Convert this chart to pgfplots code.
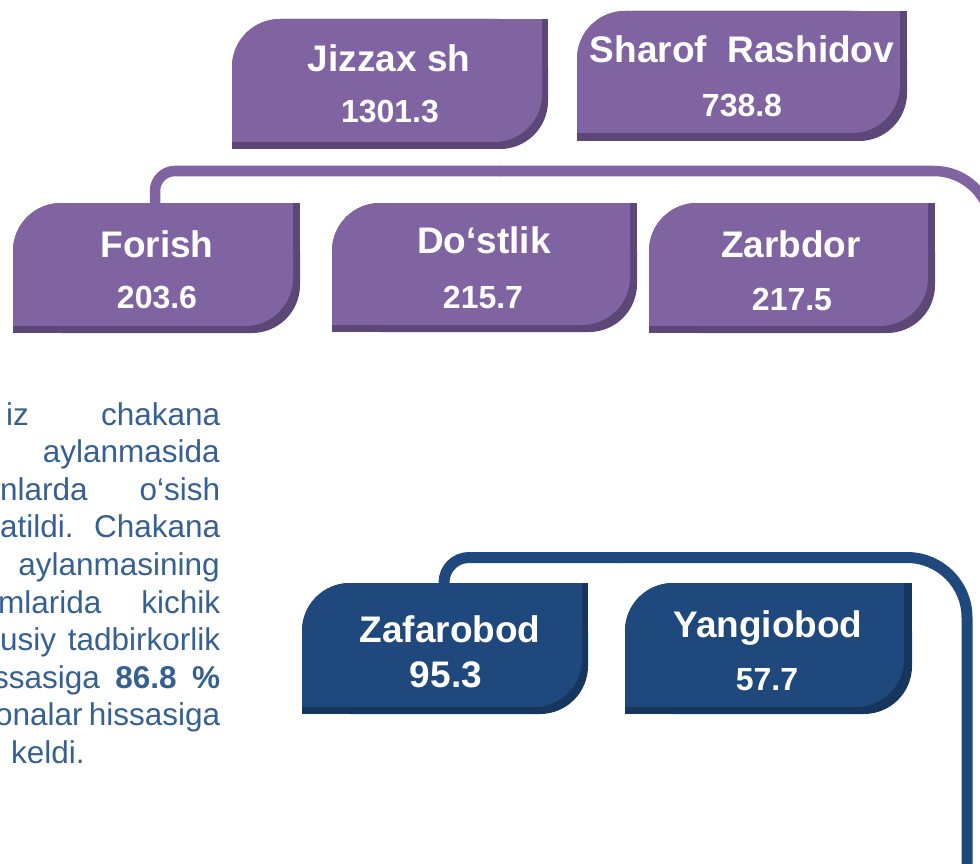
\documentclass[border=0pt]{standalone}
\usepackage{pgfplots}
\usepackage{pgfplotstable}
\pgfplotsset{compat=1.18}
\usepackage{fontspec}
\setmainfont{Liberation Sans}
\definecolor{purp}{HTML}{8064A2}
\definecolor{purpdark}{HTML}{5C4776}
\definecolor{navy}{HTML}{1F497D}
\definecolor{navydark}{HTML}{17365D}
\definecolor{parblue}{HTML}{366092}

% body/shadow shape: rounded top-left and bottom-right corners
\newcommand\shape[5]{%
 \edef\tmp{%
  \noexpand\addplot[fill=#5, draw=none, rounded corners=48pt] coordinates {(\the\numexpr(#1+#3)/2\relax,#2) (#3,#2) (#3,#4) (#1,#4) (#1,#2)} -- cycle;
  \noexpand\addplot[fill=#5, draw=none] coordinates {(\the\numexpr#3-48\relax,#2) (#3,#2) (#3,\the\numexpr#2+48\relax) (\the\numexpr#3-48\relax,\the\numexpr#2+48\relax)} -- cycle;
  \noexpand\addplot[fill=#5, draw=none] coordinates {(#1,\the\numexpr#4-48\relax) (\the\numexpr#1+48\relax,\the\numexpr#4-48\relax) (\the\numexpr#1+48\relax,#4) (#1,#4)} -- cycle;
 }\tmp}
\newcommand\tbox[8]{\shape{#1}{#2}{#5}{#6}{#8}\shape{#1}{#2}{#3}{#4}{#7}}

\pgfplotstableread[col sep=comma]{
x,y,label
389,72,Jizzax sh
742,63,Sharof~~Rashidov
157,257,Forish
484,253,Do‘stlik
791,257,Zarbdor
450,642,Zafarobod
768,637,Yangiobod
}\names
\pgfplotstableread[col sep=comma]{
x,y,value
390,123,1301.3
742,117,738.8
157,308,203.6
483,308,215.7
792,310,217.5
767,690,57.7
}\values
\pgfplotstableread[col sep=comma]{
x,y,value
446,687,95.3
}\bigvalues

\begin{document}
\begin{tikzpicture}
\begin{axis}[
  width=980pt, height=864pt, scale only axis,
  xmin=0, xmax=980, ymin=0, ymax=864, y dir=reverse,
  hide axis, clip=true,
]
% connectors
\addplot[purp, line width=10.5pt, rounded corners=20pt] coordinates {(155,206) (155,171) (500,171)};
\addplot[purp, line width=10.5pt, rounded corners=58pt] coordinates {(499,171) (992,171) (992,420)};
\addplot[navy, line width=11pt, rounded corners=25pt] coordinates {(444,590) (444,557.5) (620,557.5)};
\addplot[navy, line width=11pt, rounded corners=60pt] coordinates {(619,557.5) (967,557.5) (967,880)};

% boxes
\tbox{232}{19}{542}{142}{548}{149}{purp}{purpdark}
\tbox{577}{11}{900}{133}{907}{141}{purp}{purpdark}
\tbox{13}{203}{293}{326}{300}{333}{purp}{purpdark}
\tbox{332}{203}{630}{325}{637}{332}{purp}{purpdark}
\tbox{649}{203}{928}{326}{935}{333}{purp}{purpdark}
\tbox{302}{583}{582}{707}{588}{714}{navy}{navydark}
\tbox{625}{583}{904}{707}{912}{714}{navy}{navydark}

% labels
\addplot[only marks, mark=none, nodes near coords, point meta=explicit symbolic,
  every node near coord/.append style={anchor=base, inner sep=0pt, text=white,
    font=\fontsize{37}{44}\selectfont\bfseries}]
  table[x=x, y=y, meta=label] {\names};
\addplot[only marks, mark=none, nodes near coords, point meta=explicit symbolic,
  every node near coord/.append style={anchor=base, inner sep=0pt, text=white,
    font=\fontsize{32}{38}\selectfont\bfseries}]
  table[x=x, y=y, meta=value] {\values};
\addplot[only marks, mark=none, nodes near coords, point meta=explicit symbolic,
  every node near coord/.append style={anchor=base, inner sep=0pt, text=white,
    font=\fontsize{37}{44}\selectfont\bfseries}]
  table[x=x, y=y, meta=value] {\bigvalues};

% paragraph (cropped on the left)
\begin{scope}[every node/.style={inner sep=0pt, text=parblue, font=\fontsize{31.5}{38}\selectfont}]
\node[anchor=base west] at (6,425) {\hbox to 214pt{iz\hfill chakana}};
\node[anchor=base east] at (220,462.6) {aylanmasida};
\node[anchor=base west] at (0,500.2) {\hbox to 220pt{nlarda\hfill o‘sish}};
\node[anchor=base west] at (0,537.8) {\hbox to 220pt{atildi.\hfill Chakana}};
\node[anchor=base east] at (220,575.4) {aylanmasining};
\node[anchor=base west] at (-2,613) {\hbox to 222pt{mlarida\hfill kichik}};
\node[anchor=base west] at (0,650.6) {\hbox to 220pt{usiy\hfill tadbirkorlik}};
\node[anchor=base west] at (-7,688.2) {\hbox to 227pt{ssasiga\hfill\textbf{86.8}\hfill\textbf{\%}}};
\node[anchor=base west] at (-5,725.8) {\hbox to 225pt{onalar\hfill hissasiga}};
\node[anchor=base west] at (11,763.4) {keldi.};
\end{scope}
\end{axis}
\pgfresetboundingbox
\path[use as bounding box] (current axis.south west) rectangle (current axis.north east);
\end{tikzpicture}
\end{document}
